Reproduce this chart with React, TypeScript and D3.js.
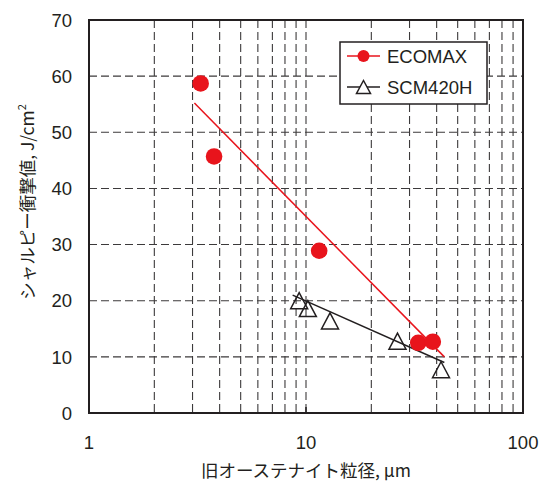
import React from 'react';
import * as d3 from 'd3';

// values
const ecomaxX = [3.27, 3.77, 11.5, 32.9, 38.4];
const ecomaxY = [58.7, 45.7, 28.9, 12.5, 12.7];
const scmX = [9.3, 10.2, 12.9, 26.4, 41.9];
const scmY = [20.0, 18.6, 16.4, 12.8, 7.7];

// trend lines (end points)
const ecomaxFitX = [3.06, 43.4];
const ecomaxFitY = [55.2, 10.0];
const scmFitX = [8.68, 43.4];
const scmFitY = [21.0, 9.0];

const xTickLabels = [1, 10, 100];
const yTickLabels = [0, 10, 20, 30, 40, 50, 60, 70];
const seriesNames = ['ECOMAX', 'SCM420H'];

const W = 549;
const H = 484;
const RED = '#e8141c';
const INK = '#231f20';
const GRID = '#3c3a3b';
const LATIN = '"Liberation Sans", Arial, "Noto Sans CJK JP", sans-serif';
const CJK = '"Noto Sans CJK JP", "Liberation Sans", sans-serif';

// triangle centred on its bounding box
function tri(cx: number, cy: number, w: number, h: number) {
  return `M${cx},${cy - h / 2}L${cx + w / 2},${cy + h / 2}L${cx - w / 2},${cy + h / 2}Z`;
}

export default function App() {
  const x = d3.scaleLog().domain([1, 100]).range([89, 523]);
  const y = d3.scaleLinear().domain([0, 70]).range([413, 20]);

  const gridX = x.ticks().filter(v => v > 1 && v < 100);
  const gridY = yTickLabels.filter(v => v > 0 && v < 70);

  const line = d3.line<[number, number]>()
    .x(d => x(d[0]))
    .y(d => y(d[1]));

  const ecoFit = ecomaxFitX.map((v, i) => [v, ecomaxFitY[i]] as [number, number]);
  const scmFit = scmFitX.map((v, i) => [v, scmFitY[i]] as [number, number]);

  const [x0, x1] = x.range();
  const [y0, y1] = y.range();

  return (
    <div style={{ position: 'absolute', left: 0, top: 0 }}>
      <svg width={W} height={H} style={{ display: 'block', background: '#fff' }}>
        {/* grid */}
        <g stroke={GRID} strokeWidth={1.1} strokeDasharray="8,4" fill="none">
          {gridX.map(v => (
            <line key={'gx' + v} x1={x(v)} x2={x(v)} y1={y1} y2={y0} />
          ))}
          {gridY.map(v => (
            <line key={'gy' + v} x1={x0} x2={x1} y1={y(v)} y2={y(v)} />
          ))}
        </g>

        {/* major tick at 10 */}
        <line x1={x(10)} x2={x(10)} y1={y0} y2={y0 - 6} stroke={INK} strokeWidth={1.5} />

        {/* fit lines */}
        <path d={line(ecoFit) || ''} fill="none" stroke={RED} strokeWidth={1.5} />
        <path d={line(scmFit) || ''} fill="none" stroke={INK} strokeWidth={1.5} />

        {/* SCM420H triangles */}
        {scmX.map((v, i) => (
          <path key={'t' + i} d={tri(x(v), y(scmY[i]), 17, 16)} fill="none" stroke={INK} strokeWidth={1.5} />
        ))}

        {/* ECOMAX circles */}
        {ecomaxX.map((v, i) => (
          <circle key={'c' + i} cx={x(v)} cy={y(ecomaxY[i])} r={8.3} fill={RED} />
        ))}

        {/* frame */}
        <rect x={x0} y={y1} width={x1 - x0} height={y0 - y1} fill="none" stroke={INK} strokeWidth={2} />

        {/* y tick labels */}
        {yTickLabels.map(v => (
          <text key={'yl' + v} x={72} y={y(v)} dy="0.36em" textAnchor="end"
            fontFamily={LATIN} fontSize={18.5} fill={INK}>{v}</text>
        ))}

        {/* x tick labels */}
        {xTickLabels.map(v => (
          <text key={'xl' + v} x={x(v)} y={449} textAnchor="middle"
            fontFamily={LATIN} fontSize={18.5} fill={INK}>{v}</text>
        ))}

        {/* axis titles */}
        <text x={306} y={477} textAnchor="middle" fontFamily={CJK} fontSize={17.5} fill={INK}>
          旧オーステナイト粒径, μm
        </text>
        <text transform="translate(34,202) rotate(-90)" textAnchor="middle"
          fontFamily={CJK} fontSize={17.5} fill={INK}>
          シャルピー衝撃値, J/cm<tspan dy={-8} fontSize={11}>2</tspan>
        </text>

        {/* legend */}
        <g>
          <rect x={340} y={42} width={147} height={62} fill="#fff" stroke={INK} strokeWidth={1.5} />
          <line x1={347} x2={380} y1={56} y2={56} stroke={RED} strokeWidth={1.5} />
          <circle cx={363.5} cy={56} r={6} fill={RED} />
          <text x={387} y={63} fontFamily={LATIN} fontSize={18.5} fill={INK}>{seriesNames[0]}</text>
          <line x1={347} x2={380} y1={87} y2={87} stroke={INK} strokeWidth={1.5} />
          <path d={tri(363.5, 87, 14, 13)} fill="#fff" stroke={INK} strokeWidth={1.5} />
          <text x={387} y={94} fontFamily={LATIN} fontSize={18.5} fill={INK}>{seriesNames[1]}</text>
        </g>
      </svg>
    </div>
  );
}
